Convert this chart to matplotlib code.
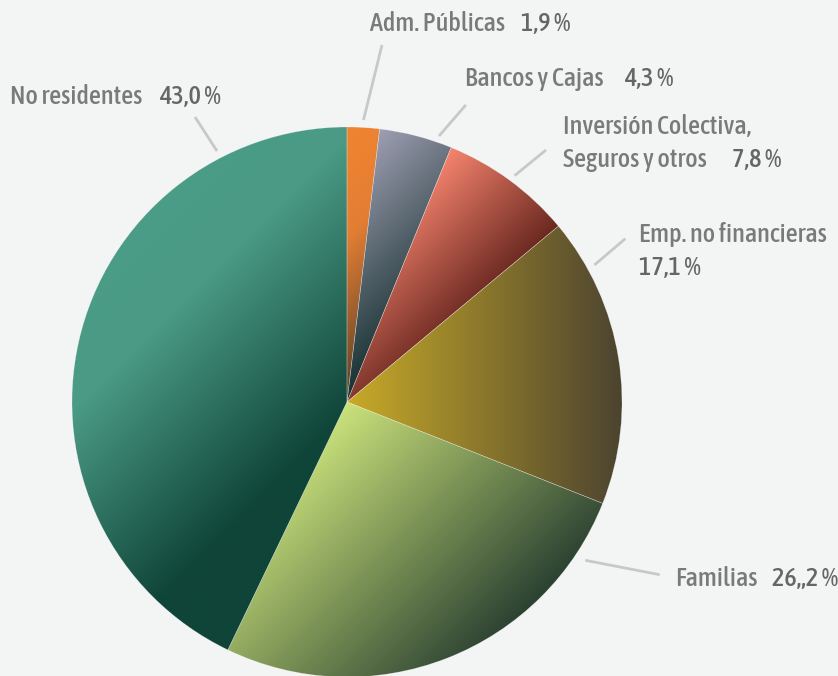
import matplotlib.pyplot as plt
import numpy as np
from matplotlib.colors import LinearSegmentedColormap
from matplotlib import font_manager as fm

# data
sectors = ["Adm. Públicas", "Bancos y Cajas", "Inversión Colectiva,\nSeguros y otros",
           "Emp. no financieras", "Familias", "No residentes"]
shares = [1.9, 4.3, 7.8, 17.1, 26.2, 43.0]
share_labels = ["1,9 %", "4,3 %", "7,8 %", "17,1 %", "26„2 %", "43,0 %"]

# gradient per slice: direction and colour stops
grad_dirs = [(1, -1), (1, -1), (1, -1), (1, 0), (1, -1), (1, -1)]
grad_stops = [
    [(0, "#F28430"), (0.4, "#E27E34"), (1, "#5A4028")],
    [(0, "#9E9EB2"), (1, "#16302F")],
    [(0, "#F5846E"), (1, "#6A2820")],
    [(0, "#C8AA28"), (1, "#4A4230")],
    [(0, "#CAE27A"), (1, "#2C4232")],
    [(0, "#4B9D87"), (0.25, "#4A9A85"), (0.78, "#0F4438"), (1, "#0F4438")],
]

BG = "#F3F5F4"

# look for a narrow / condensed face (medium weight if there is one)
def find_face(want):
    for key in ["Narrow", "Condensed", "Cond"]:
        for f in fm.fontManager.ttflist:
            n = f.fname
            if key not in n or f.style != "normal" or "Italic" in n or "Oblique" in n:
                continue
            if want == "medium" and "Medium" in n:
                return fm.FontProperties(fname=n)
            if want == "regular" and not any(k in n for k in ["Bold", "Light", "Medium", "Thin", "Black", "Semi"]):
                return fm.FontProperties(fname=n)
    return None

fp = find_face("medium") or find_face("regular") or fm.FontProperties(family="DejaVu Sans", stretch="condensed")

fig = plt.figure(figsize=(8.38, 6.76), dpi=100, facecolor=BG)
ax = fig.add_axes([0, 0, 1, 1])
ax.set_facecolor(BG)

# pixel -> data (pie centre at pixel 347,402, radius 275 px)
R_PX = 275.0
def px(x, y):
    return (x - 347) / R_PX, (402 - y) / R_PX

wedges, _ = ax.pie(shares, startangle=90, counterclock=False, radius=1,
                   wedgeprops=dict(facecolor="none", edgecolor="none"))

xs = np.linspace(-1, 1, 600)
ys = np.linspace(-1, 1, 600)
X, Y = np.meshgrid(xs, ys)
for w, d, stops in zip(wedges, grad_dirs, grad_stops):
    d = np.array(d, float) / np.hypot(*d)
    verts = w.get_path().vertices
    pr = verts @ d
    P = X * d[0] + Y * d[1]
    t = np.clip((P - pr.min()) / (pr.max() - pr.min()), 0, 1)
    cmap = LinearSegmentedColormap.from_list("g", stops)
    im = ax.imshow(t, cmap=cmap, vmin=0, vmax=1, extent=(-1, 1, -1, 1),
                   origin="lower", interpolation="bilinear", zorder=1)
    im.set_clip_path(w)
    w.set_zorder(2)
    w.set_edgecolor((1, 1, 1, 0.35))
    w.set_linewidth(0.4)

ax.set_xlim(-347 / R_PX, (838 - 347) / R_PX)
ax.set_ylim((402 - 676) / R_PX, 402 / R_PX)
ax.set_aspect("equal")
ax.axis("off")

# size the font so "Emp. no financieras" is ~190 px wide, as in the reference
probe = ax.text(0, 0, "Emp. no financieras", fontproperties=fp, fontsize=18)
fig.canvas.draw()
wpx = probe.get_window_extent().width
probe.remove()
fs = min(18 * 190 / wpx, 19)

name_color = "#7A7A7A"
num_color = "#666666"
# labels: (name x, number x, baseline y) in pixels
label_pos = [
    (370, 521, 31),
    (465, 624, 86),
    (562.5, 732, 167),
    (639, 639, 242),
    (675, 771.6, 586),
    (10, 159, 104),
]
def put(x, y, s, c):
    ax.text(*px(x, y), s, color=c, fontproperties=fp, fontsize=fs, va="baseline", ha="left")

for name, val, (xn, xv, yb) in zip(sectors, share_labels, label_pos):
    if "\n" in name:
        l1, l2 = name.split("\n")
        put(xn, yb - 33, l1, name_color)
        put(xn, yb, l2, name_color)
        put(xv, yb, val, num_color)
    elif name.startswith("Emp"):
        put(xn, yb, name, name_color)
        put(xv, yb + 33, val, num_color)
    else:
        put(xn, yb, name, name_color)
        put(xv, yb, val, num_color)

# leader lines (pixels)
leaders = [
    ((363.5, 120), (382, 45)),
    ((439, 136), (465.8, 105)),
    ((514.5, 175.7), (546, 150)),
    ((594.4, 265), (625.3, 238.7)),
    ((585.3, 560.3), (659.7, 574.7)),
    ((217, 151), (195, 117)),
]
for a, b in leaders:
    pa, pb = px(*a), px(*b)
    ax.plot([pa[0], pb[0]], [pa[1], pb[1]], color="#C8C8C8", lw=2, solid_capstyle="butt", zorder=3)

fig.savefig("out.png", dpi=100, facecolor=BG)
